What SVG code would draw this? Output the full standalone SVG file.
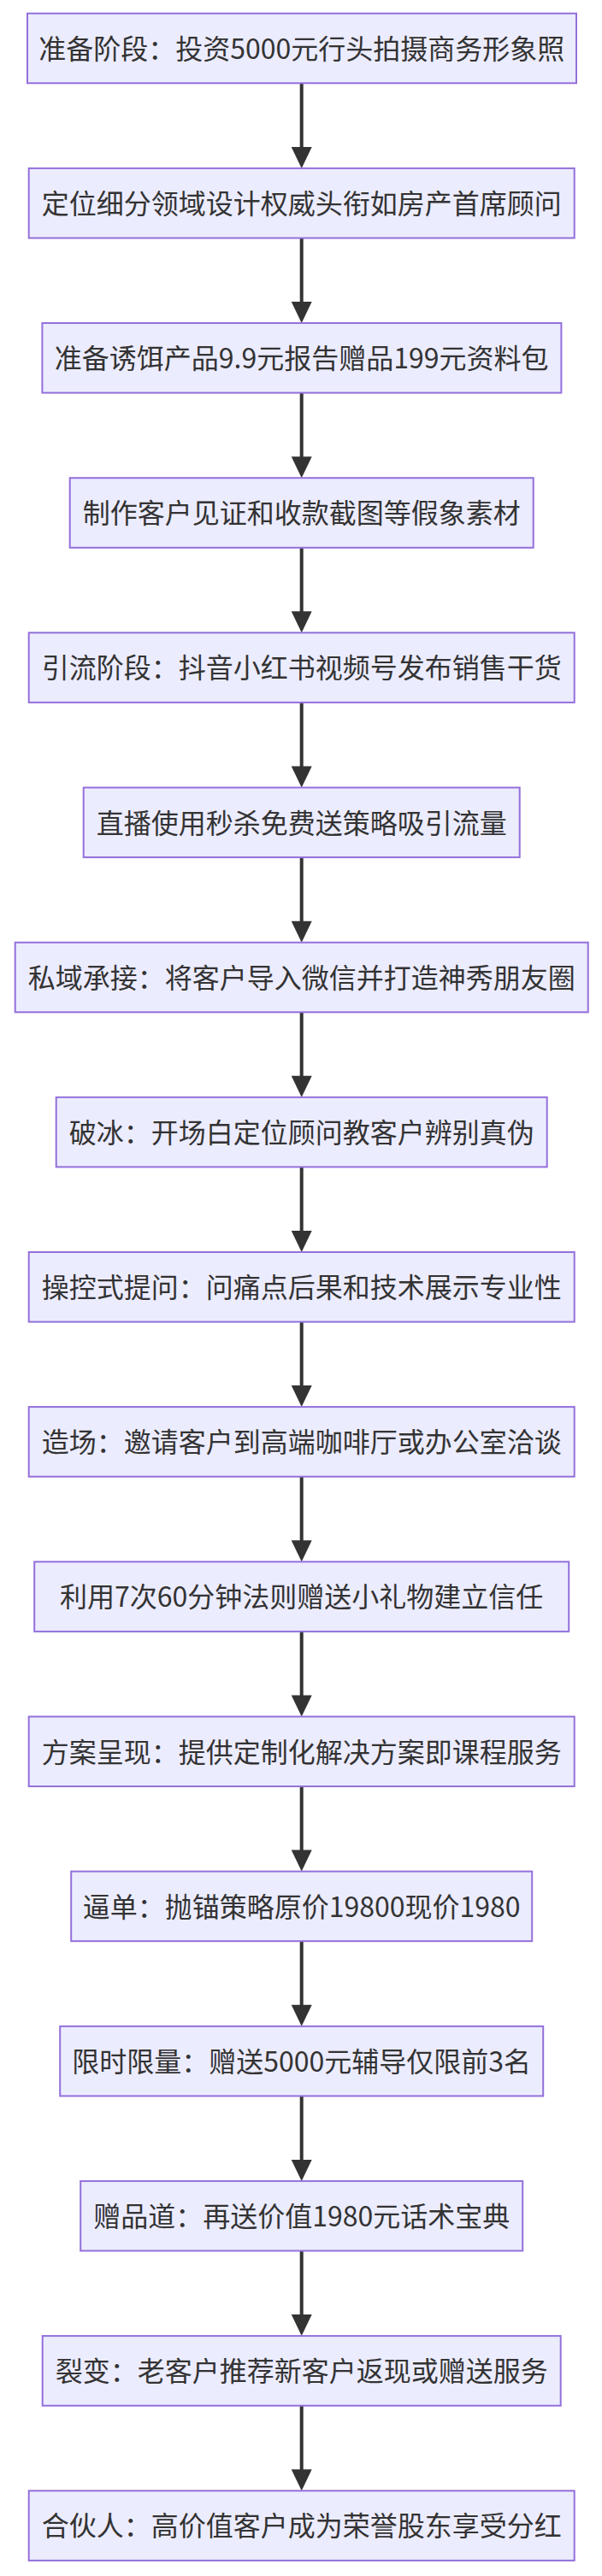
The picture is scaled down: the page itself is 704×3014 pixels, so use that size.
<svg xmlns="http://www.w3.org/2000/svg" width="704" height="3014" viewBox="0 0 704 3014">
<style>
.node rect{fill:#ECECFF;stroke:#9370DB;stroke-width:2}
.node text{font-family:"Noto Sans CJK SC","Microsoft YaHei",sans-serif;font-size:32px;fill:#333333;text-anchor:middle}
.edge{stroke:#333333;stroke-width:4;fill:none}
.head{fill:#333333}
</style>
<defs>
<path id="ah" class="head" d="M-12,-25 L12,-25 L0,0 z"/>
</defs>
<rect width="704" height="3014" fill="#ffffff"/>
<g id="connectors">
<path class="edge" d="M352.7,97.3 V176.9"/><use href="#ah" x="352.7" y="196.9"/>
<path class="edge" d="M352.7,278.5 V358.0"/><use href="#ah" x="352.7" y="378.0"/>
<path class="edge" d="M352.7,459.6 V539.2"/><use href="#ah" x="352.7" y="559.2"/>
<path class="edge" d="M352.7,640.8 V720.3"/><use href="#ah" x="352.7" y="740.3"/>
<path class="edge" d="M352.7,821.9 V901.5"/><use href="#ah" x="352.7" y="921.5"/>
<path class="edge" d="M352.7,1003.1 V1082.7"/><use href="#ah" x="352.7" y="1102.7"/>
<path class="edge" d="M352.7,1184.3 V1263.8"/><use href="#ah" x="352.7" y="1283.8"/>
<path class="edge" d="M352.7,1365.4 V1445.0"/><use href="#ah" x="352.7" y="1465.0"/>
<path class="edge" d="M352.7,1546.6 V1626.1"/><use href="#ah" x="352.7" y="1646.1"/>
<path class="edge" d="M352.7,1727.7 V1807.3"/><use href="#ah" x="352.7" y="1827.3"/>
<path class="edge" d="M352.7,1908.9 V1988.5"/><use href="#ah" x="352.7" y="2008.5"/>
<path class="edge" d="M352.7,2090.1 V2169.6"/><use href="#ah" x="352.7" y="2189.6"/>
<path class="edge" d="M352.7,2271.2 V2350.8"/><use href="#ah" x="352.7" y="2370.8"/>
<path class="edge" d="M352.7,2452.4 V2531.9"/><use href="#ah" x="352.7" y="2551.9"/>
<path class="edge" d="M352.7,2633.5 V2713.1"/><use href="#ah" x="352.7" y="2733.1"/>
<path class="edge" d="M352.7,2814.7 V2894.3"/><use href="#ah" x="352.7" y="2914.3"/>
</g>
<g id="n1" class="node"><rect x="32" y="15.7" width="642" height="81.6"/><text x="352.7" y="68.7">准备阶段：投资5000元行头拍摄商务形象照</text></g>
<g id="n2" class="node"><rect x="33.7" y="196.9" width="638" height="81.6"/><text x="352.7" y="249.9">定位细分领域设计权威头衔如房产首席顾问</text></g>
<g id="n3" class="node"><rect x="49.4" y="378.0" width="607" height="81.6"/><text x="352.7" y="431.0">准备诱饵产品9.9元报告赠品199元资料包</text></g>
<g id="n4" class="node"><rect x="81.7" y="559.2" width="542" height="81.6"/><text x="352.7" y="612.2">制作客户见证和收款截图等假象素材</text></g>
<g id="n5" class="node"><rect x="33.7" y="740.3" width="638" height="81.6"/><text x="352.7" y="793.3">引流阶段：抖音小红书视频号发布销售干货</text></g>
<g id="n6" class="node"><rect x="97.7" y="921.5" width="510" height="81.6"/><text x="352.7" y="974.5">直播使用秒杀免费送策略吸引流量</text></g>
<g id="n7" class="node"><rect x="17.7" y="1102.7" width="670" height="81.6"/><text x="352.7" y="1155.7">私域承接：将客户导入微信并打造神秀朋友圈</text></g>
<g id="n8" class="node"><rect x="65.7" y="1283.8" width="574" height="81.6"/><text x="352.7" y="1336.8">破冰：开场白定位顾问教客户辨别真伪</text></g>
<g id="n9" class="node"><rect x="33.7" y="1465.0" width="638" height="81.6"/><text x="352.7" y="1518.0">操控式提问：问痛点后果和技术展示专业性</text></g>
<g id="n10" class="node"><rect x="33.7" y="1646.1" width="638" height="81.6"/><text x="352.7" y="1699.1">造场：邀请客户到高端咖啡厅或办公室洽谈</text></g>
<g id="n11" class="node"><rect x="40.2" y="1827.3" width="625" height="81.6"/><text x="352.7" y="1880.3">利用7次60分钟法则赠送小礼物建立信任</text></g>
<g id="n12" class="node"><rect x="33.7" y="2008.5" width="638" height="81.6"/><text x="352.7" y="2061.5">方案呈现：提供定制化解决方案即课程服务</text></g>
<g id="n13" class="node"><rect x="83.2" y="2189.6" width="539" height="81.6"/><text x="352.7" y="2242.6">逼单：抛锚策略原价19800现价1980</text></g>
<g id="n14" class="node"><rect x="70.2" y="2370.8" width="565" height="81.6"/><text x="352.7" y="2423.8">限时限量：赠送5000元辅导仅限前3名</text></g>
<g id="n15" class="node"><rect x="94.2" y="2551.9" width="517" height="81.6"/><text x="352.7" y="2604.9">赠品道：再送价值1980元话术宝典</text></g>
<g id="n16" class="node"><rect x="49.7" y="2733.1" width="606" height="81.6"/><text x="352.7" y="2786.1">裂变：老客户推荐新客户返现或赠送服务</text></g>
<g id="n17" class="node"><rect x="33.7" y="2914.3" width="638" height="81.6"/><text x="352.7" y="2967.3">合伙人：高价值客户成为荣誉股东享受分红</text></g>
</svg>
